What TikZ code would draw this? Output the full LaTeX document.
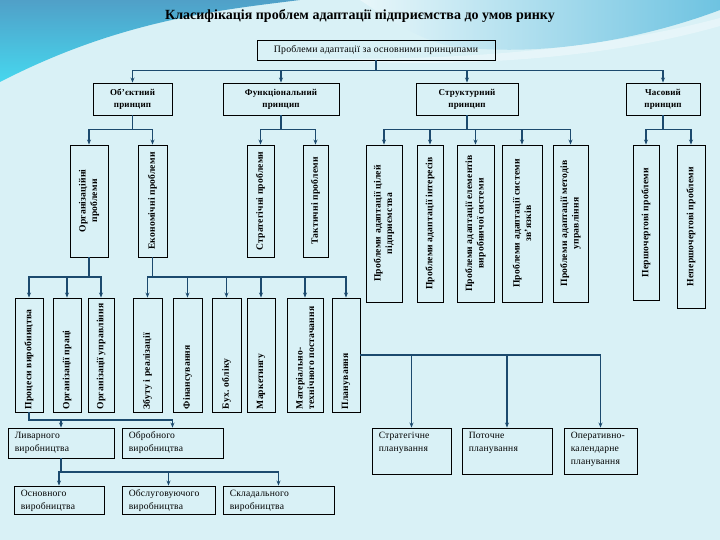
\documentclass[tikz,border=0pt]{standalone}
\usepackage{fontspec}
\setmainfont{Liberation Serif}
\newfontfamily\bxfont{Liberation Serif}[LetterSpace=2]
\usetikzlibrary{arrows.meta,calc}
\definecolor{bg}{RGB}{217,241,246}
\definecolor{ln}{RGB}{28,74,110}
\definecolor{swA}{RGB}{80,160,200}
\definecolor{swB}{RGB}{70,215,238}
\definecolor{swC}{RGB}{110,195,225}
\newcommand\vfont{\bxfont\bfseries\fontsize{9.6}{11.5}\selectfont}
\newcommand\hfont{\bxfont\fontsize{9.6}{13}\selectfont}
\newcommand\tfont{\bxfont\fontsize{9.8}{12}\selectfont}
\newcommand\pfont{\bxfont\bfseries\fontsize{9}{12}\selectfont}
\newcommand\Bx[5]{\node[bx, minimum width={(#4-#2)*1pt}, minimum height={(#5-#3)*1pt}] (#1) at ({(#2+#4)/2},{(#3+#5)/2}) {};}
\tikzset{
  bx/.style={draw=black, line width=0.9pt, inner sep=0pt},
  cn/.style={draw=ln, line width=1.9pt, -{Stealth[length=5pt,width=4pt]}},
  vt/.style={rotate=90, inner sep=0pt, align=center, font=\vfont},
  vtl/.style={vt, align=left, anchor=west},
  ht/.style={inner sep=0pt, align=left, anchor=north west, font=\hfont}
}
\begin{document}
\begin{tikzpicture}[x=1pt,y=-1pt]
\useasboundingbox (0,0) rectangle (720,540);
\fill[bg] (0,0) rectangle (720,540);
% decoration
\shade[top color=swA, bottom color=swB] (0,0) -- (300,0) .. controls (220,10) and (120,20) .. (0,82) -- cycle;
\shade[left color=bg!60!white, right color=swC] (360,0) -- (720,0) -- (720,10) .. controls (640,40) and (540,58) .. (450,46) .. controls (420,40) and (390,20) .. (360,0) -- cycle;
\fill[white, opacity=0.35] (300,58) .. controls (450,62) and (600,50) .. (720,18) -- (720,26) .. controls (600,60) and (450,70) .. (300,58) -- cycle;

% title
\node[font=\bfseries\fontsize{14}{16}\selectfont] (title) at (360,16) {Класифікація проблем адаптації підприємства до умов ринку};

% boxes
\Bx{top}{257}{40}{495}{60}
\Bx{obj}{93}{83}{172}{115}
\Bx{fun}{223}{83}{339}{115}
\Bx{str}{416}{83}{518}{115}
\Bx{chas}{626}{83}{700}{115}

\Bx{org}{70}{145}{108}{257}
\Bx{eco}{138}{145}{167}{257}
\Bx{strat}{247}{145}{274}{257}
\Bx{takt}{303}{145}{328}{257}

\Bx{sa}{366}{145}{402}{302}
\Bx{sb}{417}{145}{443}{302}
\Bx{sc}{457}{145}{494}{302}
\Bx{sd}{502}{145}{542}{302}
\Bx{se}{553}{145}{588}{302}

\Bx{cha}{633}{145}{659}{300}
\Bx{chb}{677}{145}{705}{308}

\Bx{pa}{15}{298}{43}{412}
\Bx{pb}{53}{298}{81}{412}
\Bx{pc}{88}{298}{114}{412}
\Bx{ea}{133}{298}{162}{412}
\Bx{eb}{173}{298}{202}{412}
\Bx{ec}{212}{298}{241}{412}
\Bx{ed}{247}{298}{275}{412}
\Bx{ee}{287}{298}{323}{412}
\Bx{ef}{332}{298}{360}{412}

\Bx{la}{8}{428}{114}{458}
\Bx{lb}{122}{428}{223}{458}
\Bx{oa}{14}{486}{104}{514}
\Bx{ob}{122}{486}{215}{514}
\Bx{oc}{223}{486}{334}{514}

\Bx{pla}{372}{428}{451}{474}
\Bx{plb}{462}{428}{552}{474}
\Bx{plc}{564}{428}{637}{474}

% texts
\node[font=\tfont] (toptx) at (top.center) {Проблеми адаптації за основними принципами};
\node[align=center, font=\pfont] (objt) at (obj.center) {Об’єктний\\принцип};
\node[align=center, font=\pfont] (funt) at (fun.center) {Функціональний\\принцип};
\node[align=center, font=\pfont] (strt) at (str.center) {Структурний\\принцип};
\node[align=center, font=\pfont] (chast) at (chas.center) {Часовий\\принцип};

\node[vt] (orgt) at (org.center) {Організаційні\\проблеми};
\node[vt] (ecot) at (eco.center) {Економічні проблеми};
\node[vt] (stratt) at (strat.center) {Стратегічні проблеми};
\node[vt] (taktt) at (takt.center) {Тактичні проблеми};

\node[vt] (sat) at (sa.center) {Проблеми адаптації цілей\\підприємства};
\node[vt] (sbt) at (sb.center) {Проблеми адаптації інтересів};
\node[vt] (sct) at (sc.center) {Проблеми адаптації елементів\\виробничої системи};
\node[vt] (sdt) at (sd.center) {Проблеми адаптації системи\\зв’язків};
\node[vt] (set) at (se.center) {Проблеми адаптації методів\\управління};

\node[vt] (chat) at (cha.center) {Першочергові проблеми};
\node[vt] (chbt) at (chb.center) {Непершочергові проблеми};

\node[vtl] (pat) at ([yshift=3pt]pa.south) {Процеси виробництва};
\node[vtl] (pbt) at ([yshift=3pt]pb.south) {Організації праці};
\node[vtl] (pct) at ([yshift=3pt]pc.south) {Організації управління};
\node[vtl] (eat) at ([yshift=3pt]ea.south) {Збуту і реалізації};
\node[vtl] (ebt) at ([yshift=3pt]eb.south) {Фінансування};
\node[vtl] (ect) at ([yshift=3pt]ec.south) {Бух. обліку};
\node[vtl] (edt) at ([yshift=3pt]ed.south) {Маркетингу};
\node[vtl] (eet) at ([yshift=3pt]ee.south) {Матеріально-\\технічного постачання};
\node[vtl] (eft) at ([yshift=3pt]ef.south) {Планування};

\node[ht] (lat) at ([xshift=7pt,yshift=-4pt]la.north west) {Ливарного\\виробництва};
\node[ht] (lbt) at ([xshift=7pt,yshift=-4pt]lb.north west) {Обробного\\виробництва};
\node[ht] (oat) at ([xshift=7pt,yshift=-4pt]oa.north west) {Основного\\виробництва};
\node[ht] (obt) at ([xshift=7pt,yshift=-4pt]ob.north west) {Обслуговуючого\\виробництва};
\node[ht] (oct) at ([xshift=7pt,yshift=-4pt]oc.north west) {Складального\\виробництва};
\node[ht] (plat) at ([xshift=7pt,yshift=-4pt]pla.north west) {Стратегічне\\планування};
\node[ht] (plbt) at ([xshift=7pt,yshift=-4pt]plb.north west) {Поточне\\планування};
\node[ht] (plct) at ([xshift=7pt,yshift=-4pt]plc.north west) {Оперативно-\\календарне\\планування};

% connectors
\foreach \c in {obj,fun,str,chas} \draw[cn] (top.south) |- ([yshift=12pt]\c.north) -- (\c.north);
\foreach \c in {org,eco} \draw[cn] (obj.south) |- ([yshift=15pt]\c.north) -- (\c.north);
\foreach \c in {strat,takt} \draw[cn] (fun.south) |- ([yshift=15pt]\c.north) -- (\c.north);
\foreach \c in {sa,sb,sc,sd,se} \draw[cn] (str.south) |- ([yshift=15pt]\c.north) -- (\c.north);
\foreach \c in {cha,chb} \draw[cn] (chas.south) |- ([yshift=15pt]\c.north) -- (\c.north);
\foreach \c in {pa,pb,pc} \draw[cn] (org.south) |- ([yshift=21pt]\c.north) -- (\c.north);
\foreach \c in {ea,eb,ec,ed,ee,ef} \draw[cn] (eco.south) |- ([yshift=21pt]\c.north) -- (\c.north);
\foreach \c in {la,lb} \draw[cn] (pa.south) |- ([yshift=8pt]\c.north) -- (\c.north);
\foreach \c in {oa,ob,oc} \draw[cn] (la.south) |- ([yshift=14pt]\c.north) -- (\c.north);
\foreach \c in {pla,plb,plc} \draw[cn] (ef.east) -| (\c.north);
\end{tikzpicture}
\end{document}
